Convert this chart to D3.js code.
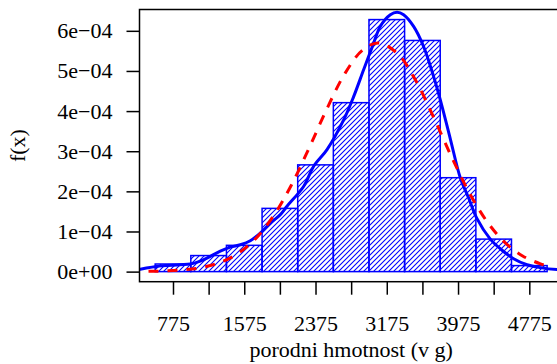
<!DOCTYPE html>
<html>
<head>
<meta charset="utf-8">
<script src="https://cdn.jsdelivr.net/npm/d3@7"></script>
<style>
  html, body { margin: 0; padding: 0; background: #ffffff; }
  svg { display: block; }
  text { font-family: "Liberation Serif", "DejaVu Serif", serif; fill: #000; }
</style>
</head>
<body>
<svg id="chart" width="557" height="364"></svg>
<script>
// ---- data ----
const binEdges = [575, 975, 1375, 1775, 2175, 2575, 2975, 3375, 3775, 4175, 4575, 4975];
const binDensity = [0.19e-4, 0.40e-4, 0.655e-4, 1.576e-4, 2.66e-4, 4.21e-4, 6.28e-4, 5.76e-4, 2.34e-4, 0.81e-4, 0.15e-4];

// kernel density estimate (solid blue)
const kdeX = [300, 408, 587, 857, 969, 1081, 1194, 1306, 1418, 1531, 1643, 1755, 1868, 1980, 2055, 2241, 2353, 2504, 2691, 2803, 2915, 3027, 3102, 3215, 3290, 3364, 3476, 3588, 3701, 3776, 3888, 4000, 4093, 4188, 4337, 4449, 4599, 4749, 4898, 5086, 5200];
const kdeY = [0.03e-4, 0.06e-4, 0.13e-4, 0.17e-4, 0.19e-4, 0.26e-4, 0.38e-4, 0.51e-4, 0.61e-4, 0.67e-4, 0.77e-4, 0.96e-4, 1.21e-4, 1.42e-4, 1.63e-4, 2.12e-4, 2.62e-4, 3.04e-4, 3.78e-4, 4.36e-4, 5.03e-4, 5.69e-4, 6.11e-4, 6.40e-4, 6.46e-4, 6.40e-4, 6.11e-4, 5.61e-4, 4.86e-4, 4.28e-4, 3.31e-4, 2.34e-4, 1.84e-4, 1.32e-4, 0.81e-4, 0.57e-4, 0.32e-4, 0.17e-4, 0.10e-4, 0.05e-4, 0.04e-4];

// normal density (dashed red)
const normX = [500, 700, 900, 1100, 1300, 1500, 1700, 1900, 2100, 2300, 2500, 2700, 2900, 3080, 3300, 3500, 3700, 3900, 4100, 4300, 4500, 4700, 4900, 4975];
const normY = [0.0064e-4, 0.0176e-4, 0.0447e-4, 0.104e-4, 0.225e-4, 0.446e-4, 0.817e-4, 1.376e-4, 2.139e-4, 3.064e-4, 4.043e-4, 4.918e-4, 5.513e-4, 5.699e-4, 5.424e-4, 4.760e-4, 3.849e-4, 2.870e-4, 1.971e-4, 1.248e-4, 0.728e-4, 0.391e-4, 0.194e-4, 0.146e-4];

const xTicks = [775, 1175, 1575, 1975, 2375, 2775, 3175, 3575, 3975, 4375, 4775];
const xTickLabels = ["775", "", "1575", "", "2375", "", "3175", "", "3975", "", "4775"];
const yTicks = [0, 1e-4, 2e-4, 3e-4, 4e-4, 5e-4, 6e-4];
const yTickLabels = ["0e+00", "1e\u221204", "2e\u221204", "3e\u221204", "4e\u221204", "5e\u221204", "6e\u221204"];
const xTitle = "porodni hmotnost (v g)";
const yTitle = "f(x)";

// ---- layout ----
const plot = { left: 139.5, right: 562.8, top: 9.5, bottom: 281.7 };
const BLUE = "#0000ff", RED = "#ff0000";

const xlim = [binEdges[0], binEdges[binEdges.length - 1]];
const xpad = (xlim[1] - xlim[0]) * 0.04;
const ylim = [0, d3.max(binDensity)];
const ypad = (ylim[1] - ylim[0]) * 0.04;

const x = d3.scaleLinear().domain([xlim[0] - xpad, xlim[1] + xpad]).range([plot.left, plot.right]);
const y = d3.scaleLinear().domain([ylim[0] - ypad, ylim[1] + ypad]).range([plot.bottom, plot.top]);

const svg = d3.select("#chart");
const defs = svg.append("defs");

const pat = defs.append("pattern")
  .attr("id", "hatch")
  .attr("patternUnits", "userSpaceOnUse")
  .attr("width", 5).attr("height", 5);
pat.append("path")
  .attr("d", "M-1,1 L1,-1 M0,5 L5,0 M4,6 L6,4")
  .attr("stroke", BLUE).attr("stroke-width", 1.1).attr("fill", "none");

defs.append("clipPath").attr("id", "plotclip")
  .append("rect")
  .attr("x", plot.left).attr("y", plot.top)
  .attr("width", plot.right - plot.left).attr("height", plot.bottom - plot.top);

// histogram bars
const bins = binDensity.map((d, i) => ({ x0: binEdges[i], x1: binEdges[i + 1], d }));
svg.append("g").selectAll("rect").data(bins).join("rect")
  .attr("x", b => x(b.x0))
  .attr("y", b => y(b.d))
  .attr("width", b => x(b.x1) - x(b.x0))
  .attr("height", b => y(0) - y(b.d))
  .attr("fill", "url(#hatch)")
  .attr("stroke", BLUE)
  .attr("stroke-width", 1.5);

const curves = svg.append("g").attr("clip-path", "url(#plotclip)");

const kde = kdeX.map((v, i) => [v, kdeY[i]]);
curves.append("path")
  .attr("d", d3.line().x(p => x(p[0])).y(p => y(p[1])).curve(d3.curveCatmullRom)(kde))
  .attr("fill", "none").attr("stroke", BLUE).attr("stroke-width", 3);

const norm = normX.map((v, i) => [v, normY[i]]);
curves.append("path")
  .attr("d", d3.line().x(p => x(p[0])).y(p => y(p[1])).curve(d3.curveCatmullRom)(norm))
  .attr("fill", "none").attr("stroke", RED).attr("stroke-width", 3)
  .attr("stroke-dasharray", "10,9");

// box
svg.append("rect")
  .attr("x", plot.left).attr("y", plot.top)
  .attr("width", plot.right - plot.left).attr("height", plot.bottom - plot.top)
  .attr("fill", "none").attr("stroke", "#000").attr("stroke-width", 1.5);

// x axis
const xAxis = d3.axisBottom(x).tickValues(xTicks)
  .tickFormat((d, i) => xTickLabels[i]).tickSize(13).tickPadding(21);
const gx = svg.append("g").attr("transform", `translate(0,${plot.bottom})`).call(xAxis);
gx.select(".domain").remove();
gx.selectAll(".tick line").attr("stroke", "#000").attr("stroke-width", 1.5);
gx.selectAll(".tick text").attr("font-size", 22).attr("font-family", "Liberation Serif");

// y axis
const yAxis = d3.axisLeft(y).tickValues(yTicks)
  .tickFormat((d, i) => yTickLabels[i]).tickSize(13).tickPadding(14);
const gy = svg.append("g").attr("transform", `translate(${plot.left},0)`).call(yAxis);
gy.select(".domain").remove();
gy.selectAll(".tick line").attr("stroke", "#000").attr("stroke-width", 1.5);
gy.selectAll(".tick text").attr("font-size", 22).attr("font-family", "Liberation Serif");

// titles
svg.append("text")
  .attr("x", (plot.left + plot.right) / 2).attr("y", 357)
  .attr("text-anchor", "middle").attr("font-size", 22)
  .text(xTitle);

svg.append("text")
  .attr("transform", `translate(25,${(plot.top + plot.bottom) / 2}) rotate(-90)`)
  .attr("text-anchor", "middle").attr("font-size", 22)
  .text(yTitle);
</script>
</body>
</html>
